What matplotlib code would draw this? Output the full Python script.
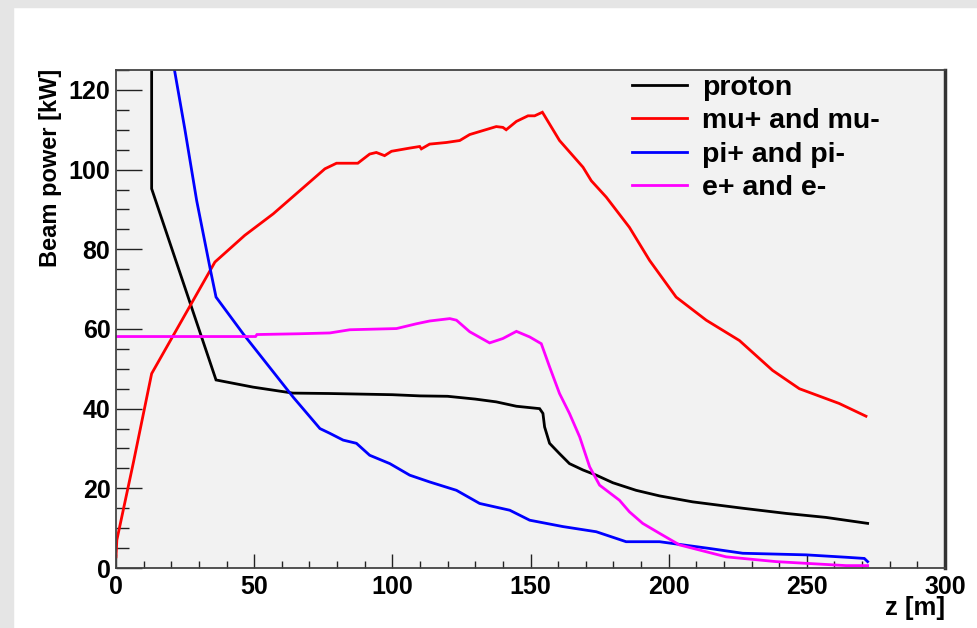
import matplotlib
matplotlib.use('Agg')
import matplotlib.pyplot as plt
from matplotlib.patches import Rectangle
from matplotlib.ticker import MultipleLocator

# Beam power along the beamline, per particle species
proton_z = [12.9, 12.9, 36.2, 49.6, 64.0, 77.0, 100.0, 110.0, 120.0, 130.0, 137.6, 144.9,
            153.3, 154.5, 155.1, 156.9, 160.5, 164.1, 169.0, 173.8, 179.8, 188.2, 196.7,
            208.7, 226.8, 242.5, 256.9, 272.0]
proton_P = [140.0, 95.2, 47.2, 45.4, 43.9, 43.8, 43.5, 43.2, 43.1, 42.4, 41.7, 40.6,
            40.0, 38.8, 35.4, 31.3, 28.7, 26.2, 24.6, 23.3, 21.4, 19.5, 18.1,
            16.6, 15.0, 13.7, 12.7, 11.2]

mu_z = [0.0, 0.3, 6.3, 12.9, 35.8, 46.6, 56.9, 75.6, 79.8, 87.5, 91.8, 94.2, 97.2, 99.7,
        106.3, 109.9, 110.5, 113.5, 119.5, 124.4, 128.0, 132.8, 137.6, 140.0, 141.2,
        144.9, 149.1, 151.5, 154.3, 155.1, 160.5, 169.0, 172.0, 177.4, 185.8, 193.1,
        202.7, 213.6, 225.6, 237.6, 247.3, 261.7, 271.4]
mu_P = [2.8, 7.0, 26.5, 48.8, 76.8, 83.5, 88.9, 100.2, 101.6, 101.6, 103.9, 104.3, 103.5, 104.6,
        105.4, 105.8, 105.2, 106.4, 106.8, 107.3, 108.8, 109.8, 110.8, 110.6, 110.0,
        112.1, 113.5, 113.5, 114.4, 113.5, 107.3, 100.6, 97.2, 93.1, 85.5, 77.2,
        68.0, 62.2, 57.1, 49.6, 45.0, 41.3, 38.1]

pi_z = [19.9, 24.9, 29.2, 34.2, 36.2, 46.0, 64.1, 73.8, 77.4, 82.2, 87.0, 91.8, 99.1,
        106.3, 113.5, 123.2, 131.6, 142.5, 149.7, 161.7, 173.8, 184.6, 196.7, 214.8,
        226.8, 249.7, 264.2, 270.8, 272.0]
pi_P = [130.0, 110.2, 92.2, 74.7, 68.0, 58.8, 42.9, 35.0, 33.8, 32.1, 31.3, 28.3, 26.2,
        23.3, 21.6, 19.5, 16.2, 14.5, 12.0, 10.4, 9.1, 6.6, 6.6, 4.9,
        3.7, 3.3, 2.7, 2.4, 1.6]

e_z = [0.0, 50.5, 51.0, 66.5, 77.4, 84.6, 101.5, 108.7, 113.5, 120.8, 123.2, 128.0, 135.2,
       140.0, 144.9, 149.7, 153.9, 156.9, 160.5, 164.1, 167.8, 171.4, 175.0, 182.2,
       185.8, 190.6, 196.7, 203.9, 220.8, 238.9, 264.2, 272.0]
e_P = [58.1, 58.1, 58.6, 58.8, 59.0, 59.8, 60.1, 61.3, 62.0, 62.6, 62.2, 59.3, 56.5,
       57.6, 59.4, 58.0, 56.3, 50.5, 43.8, 38.8, 32.9, 25.4, 20.8, 17.0,
       14.1, 11.2, 8.7, 5.8, 2.8, 1.6, 0.6, 0.6]

labels = ['proton', 'mu+ and mu-', 'pi+ and pi-', 'e+ and e-']
colors = ['black', '#ff0000', '#0000ff', '#ff00ff']

plt.rcParams['font.family'] = ['Liberation Sans', 'DejaVu Sans']
plt.rcParams['font.weight'] = 'bold'

W, H = 978, 628
fig = plt.figure(figsize=(W / 100, H / 100), dpi=100)
fig.patch.set_facecolor('white')

# grey canvas edge on the left and top
fig.patches.append(Rectangle((0, 0), 13 / W, 1, transform=fig.transFigure,
                             color='#e5e5e5', zorder=0))
fig.patches.append(Rectangle((0, 1 - 7 / H), 1, 7 / H, transform=fig.transFigure,
                             color='#e5e5e5', zorder=0))

ax = fig.add_axes([116 / W, 1 - 568 / H, (945 - 116) / W, (568 - 70) / H])
ax.set_facecolor('#f2f2f2')

for z, p, lab, c in zip([proton_z, mu_z, pi_z, e_z], [proton_P, mu_P, pi_P, e_P], labels, colors):
    ax.plot(z, p, color=c, lw=2.0, label=lab, solid_joinstyle='miter')

ax.set_xlim(0, 300)
ax.set_ylim(0, 125)
ax.xaxis.set_major_locator(MultipleLocator(50))
ax.xaxis.set_minor_locator(MultipleLocator(10))
ax.yaxis.set_major_locator(MultipleLocator(20))
ax.yaxis.set_minor_locator(MultipleLocator(5))

ax.tick_params(axis='both', which='both', direction='in', top=False, right=False,
               width=1.0, color='#222222')
ax.tick_params(axis='y', which='major', length=19, pad=4, labelsize=18)
ax.tick_params(axis='y', which='minor', length=9.5)
ax.tick_params(axis='x', which='major', length=10, pad=5, labelsize=18)
ax.tick_params(axis='x', which='minor', length=5)
for lbl in ax.get_xticklabels() + ax.get_yticklabels():
    lbl.set_fontweight('bold')

for s in ['left', 'bottom', 'top']:
    ax.spines[s].set_color('#444444')
    ax.spines[s].set_linewidth(1.3)
ax.spines['right'].set_color('#333333')
ax.spines['right'].set_linewidth(2.5)

fig.text(51 / W, 1 - 69 / H, 'Beam power [kW]', rotation=90, ha='center', va='top',
         fontsize=17, fontweight='bold')
fig.text(945 / W, 1 - 608 / H, 'z [m]', ha='right', va='center',
         fontsize=18.5, fontweight='bold')

ax.legend(loc='upper left', bbox_to_anchor=(612 / W, 1 - 55 / H),
          bbox_transform=fig.transFigure, frameon=False,
          prop={'weight': 'bold', 'size': 20.5}, handlelength=1.95,
          handletextpad=0.5, labelspacing=0.26, borderpad=0.2)

fig.savefig('out.png', dpi=100)
